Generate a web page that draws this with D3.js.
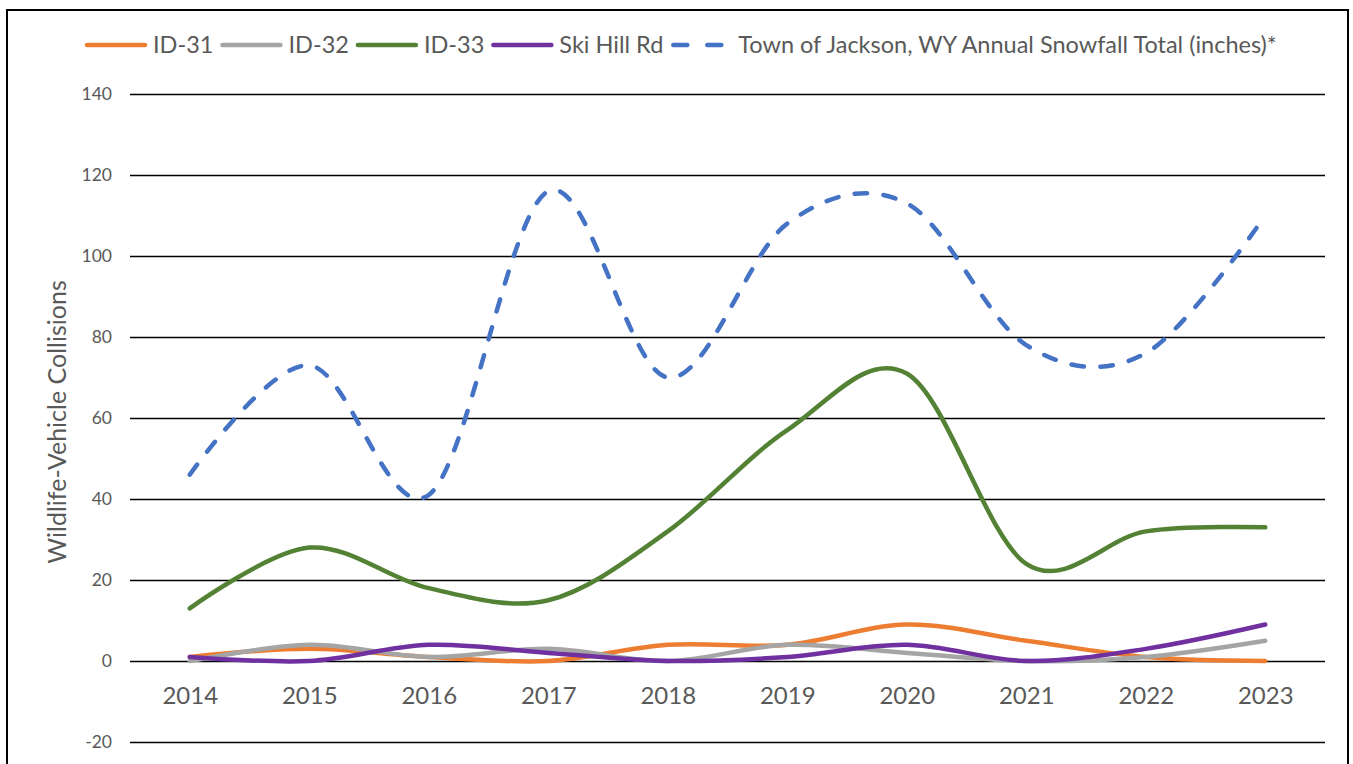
<!DOCTYPE html>
<html>
<head>
<meta charset="utf-8">
<script src="https://cdn.jsdelivr.net/npm/d3@7/dist/d3.min.js"></script>
<style>
  html, body { margin: 0; padding: 0; background: #fff; }
  svg { display: block; }
  text { font-family: Lato, "Noto Sans", sans-serif; fill: #595959; }
</style>
</head>
<body>
<svg id="chart" width="1353" height="764"></svg>
<script>
const years = ["2014","2015","2016","2017","2018","2019","2020","2021","2022","2023"];
const id31 = [1, 3, 1, 0, 4, 4, 9, 5, 1, 0];
const id32 = [0, 4, 1, 3, 0, 4, 2, 0, 1, 5];
const id33 = [13, 28, 18, 15, 32, 57, 71, 24, 32, 33];
const skiHill = [1, 0, 4, 2, 0, 1, 4, 0, 3, 9];
const snowfall = [46, 73, 41, 116, 70, 108, 113, 78, 76, 110];
const seriesNames = ["ID-31", "ID-32", "ID-33", "Ski Hill Rd", "Town of Jackson, WY Annual Snowfall Total (inches)*"];
const yTicks = [-20, 0, 20, 40, 60, 80, 100, 120, 140];
const yTickLabels = ["-20", "0", "20", "40", "60", "80", "100", "120", "140"];
const yTitle = "Wildlife-Vehicle Collisions";

const colors = ["#ED7D31", "#A5A5A5", "#548235", "#7030A0", "#4472C4"];
const dashed = [false, false, false, false, true];
const seriesValues = [id31, id32, id33, skiHill, snowfall];

const svg = d3.select("#chart");

// frame
svg.append("rect").attr("x", 7).attr("y", 10).attr("width", 1341).attr("height", 770)
  .attr("fill", "#fff").attr("stroke", "#000").attr("stroke-width", 2);

const plotL = 130, plotR = 1325, plotT = 94, plotB = 742;
const x = d3.scalePoint().domain(years).range([plotL, plotR]).padding(0.5);
const y = d3.scaleLinear().domain([-20, 140]).range([plotB, plotT]);

// gridlines + y labels via axis
const yAxis = d3.axisLeft(y).tickValues(yTicks)
  .tickFormat((d, i) => yTickLabels[i])
  .tickSize(-(plotR - plotL)).tickPadding(18);
const gy = svg.append("g").attr("transform", `translate(${plotL},0)`).call(yAxis);
gy.select(".domain").remove();
gy.selectAll(".tick line").attr("stroke", "#000").attr("stroke-width", 1.4);
gy.selectAll(".tick text").attr("font-size", 17.5).style("fill", "#595959")
  .attr("font-family", "Lato, sans-serif");

// x labels (category axis crossing at 0)
const xAxis = d3.axisBottom(x).tickSize(0).tickPadding(26);
const gx = svg.append("g").attr("transform", `translate(0,${y(0)})`).call(xAxis);
gx.select(".domain").remove();
gx.selectAll(".tick text").attr("font-size", 24).style("fill", "#595959")
  .attr("font-family", "Lato, sans-serif");

// y title
svg.append("text")
  .attr("transform", `translate(66,${(plotT + plotB) / 2 + 4}) rotate(-90)`)
  .attr("text-anchor", "middle")
  .attr("font-size", 25)
  .text(yTitle);

// lines
const line = d3.line()
  .x((d, i) => x(years[i]))
  .y(d => y(d))
  .curve(d3.curveCardinal.tension(0));

seriesValues.forEach((vals, k) => {
  const p = svg.append("path")
    .datum(vals)
    .attr("d", line)
    .attr("fill", "none")
    .attr("stroke", colors[k])
    .attr("stroke-width", 4.5)
    .attr("stroke-linecap", "round")
    .attr("stroke-linejoin", "round");
  if (dashed[k]) p.attr("stroke-dasharray", "12.5,16.5");
});

// legend
const legend = svg.append("g");
let lx = 85;
const ly = 45;
seriesNames.forEach((name, k) => {
  const g = legend.append("g");
  const l = g.append("line")
    .attr("x1", lx + 2).attr("x2", lx + 60).attr("y1", ly).attr("y2", ly)
    .attr("stroke", colors[k]).attr("stroke-width", 4.5).attr("stroke-linecap", "round");
  if (dashed[k]) l.attr("x1", lx + 3).attr("x2", lx + 60).attr("stroke-dasharray", "14,20");
  const t = g.append("text")
    .attr("x", lx + 68).attr("y", ly).attr("dy", "0.35em")
    .attr("font-size", 23.5)
    .text(name);
  lx += 68 + t.node().getComputedTextLength() + 7;
});
</script>
</body>
</html>
